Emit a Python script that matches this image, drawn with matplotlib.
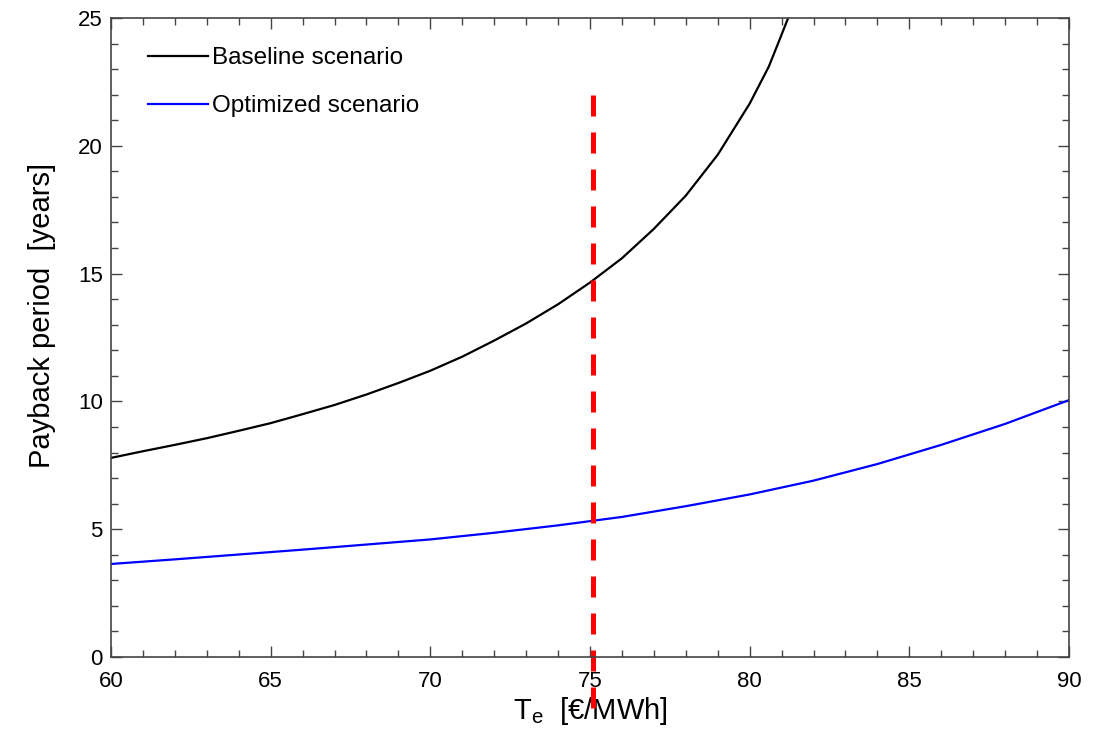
import matplotlib.pyplot as plt
from matplotlib.ticker import MultipleLocator

plt.rcParams['font.family'] = ['Liberation Sans', 'DejaVu Sans']
plt.rcParams['mathtext.default'] = 'regular'

# values
te_base = [60, 61, 62, 63, 64, 65, 66, 67, 68, 69, 70, 71, 72, 73, 74, 75, 76, 77, 78, 79,
           80, 80.6, 81.0, 81.22]
pb_base = [7.79, 8.05, 8.30, 8.56, 8.85, 9.15, 9.50, 9.86, 10.27, 10.72, 11.20, 11.75, 12.38,
           13.05, 13.80, 14.65, 15.60, 16.75, 18.05, 19.65, 21.65, 23.10, 24.35, 25.05]

te_opt = [60, 62, 64, 66, 68, 70, 72, 74, 76, 78, 80, 82, 84, 86, 88, 90]
pb_opt = [3.64, 3.82, 4.01, 4.20, 4.40, 4.60, 4.86, 5.15, 5.48, 5.90, 6.36, 6.90, 7.55, 8.30,
          9.12, 10.05]

te_ref = 75.1
ref_span = [22.0, -2.1]

fig = plt.figure(figsize=(10.97, 7.33), dpi=100)
ax = fig.add_axes([111 / 1097, 1 - 657 / 733, 958 / 1097, 639 / 733])

ax.plot(te_base, pb_base, color='black', lw=1.6, label='Baseline scenario')
ax.plot(te_opt, pb_opt, color='blue', lw=1.6, label='Optimized scenario')
ax.plot([te_ref, te_ref], ref_span, color='red', lw=3.6, dashes=(4.2, 3.2), clip_on=False)

ax.set_xlim(60, 90)
ax.set_ylim(0, 25)
ax.xaxis.set_major_locator(MultipleLocator(5))
ax.xaxis.set_minor_locator(MultipleLocator(1))
ax.yaxis.set_major_locator(MultipleLocator(5))
ax.yaxis.set_minor_locator(MultipleLocator(1))
ax.tick_params(which='both', direction='in', top=True, right=True, color='#444444', labelsize=16)
ax.tick_params(which='major', length=8, width=1)
ax.tick_params(which='minor', length=5, width=1)
ax.tick_params(axis='x', pad=10)
ax.tick_params(axis='y', pad=6)
for s in ax.spines.values():
    s.set_color('#444444')
    s.set_linewidth(1.2)

ax.set_xlabel('$T_e$  [€/MWh]', fontsize=21, labelpad=2)
ax.set_ylabel('Payback period  [years]', fontsize=21, labelpad=16)
ax.yaxis.label.set_y(0.535)

leg = ax.legend(loc='upper left', frameon=False, fontsize=17.5, handlelength=2.47,
                handletextpad=0.16, labelspacing=1.07, borderpad=0, borderaxespad=0,
                bbox_to_anchor=(0.0386, 0.954))

fig.savefig('out.png', dpi=100)
